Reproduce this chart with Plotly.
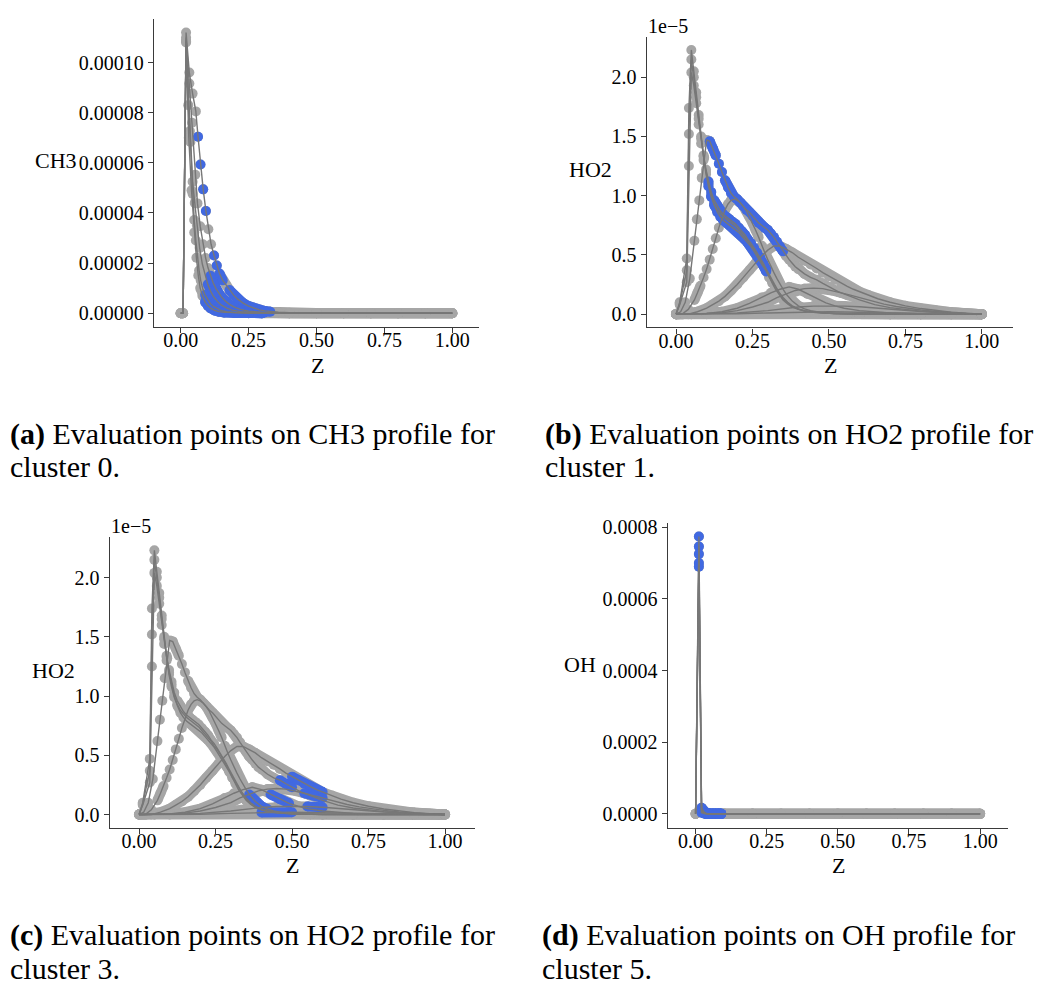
import plotly.graph_objects as go

# ------------------------------------------------------------------ data
# (a) CH3 profiles, values in units of 1e-5
ch3_z1 = [0, 0.009, 0.02, 0.032, 0.044, 0.056, 0.064, 0.073, 0.083, 0.093, 0.102, 0.112, 0.123, 0.133, 0.143,
          0.155, 0.167, 0.18, 0.195, 0.21, 0.23, 0.25, 0.27, 0.29, 0.31, 0.33, 0.36, 0.4, 0.45, 0.5, 0.6, 0.7,
          0.8, 0.9, 1.0]
ch3_v1 = [0, 0, 11.2, 9.6, 8.76, 8.05, 7.04, 5.93, 4.94, 4.08, 3.35, 2.75, 2.30, 1.90, 1.58,
          1.31, 1.12, 0.92, 0.72, 0.56, 0.40, 0.28, 0.19, 0.13, 0.09, 0.06, 0.035, 0.02, 0.01, 0.005, 0.002, 0.001,
          0, 0, 0]
ch3_z2 = [0, 0.009, 0.02, 0.032, 0.042, 0.054, 0.062, 0.072, 0.082, 0.092, 0.101, 0.11, 0.12, 0.13, 0.14, 0.15,
          0.165, 0.18, 0.2, 0.22, 0.25, 0.28, 0.31, 0.35, 0.4, 0.5, 0.6, 0.7, 0.8, 0.9, 1.0]
ch3_v2 = [0, 0, 11.0, 9.16, 7.6, 5.52, 4.38, 3.47, 2.75, 2.2, 1.8, 1.49, 1.2, 0.98, 0.8, 0.65,
          0.48, 0.35, 0.23, 0.15, 0.08, 0.045, 0.025, 0.012, 0.005, 0.001, 0, 0, 0, 0, 0]
ch3_z3 = [0, 0.009, 0.02, 0.034, 0.044, 0.052, 0.06, 0.07, 0.08, 0.09, 0.1, 0.11, 0.12, 0.135, 0.15, 0.17,
          0.19, 0.22, 0.25, 0.3, 0.35, 0.4, 0.5, 0.6, 0.7, 0.8, 0.9, 1.0]
ch3_v3 = [0, 0, 10.9, 7.27, 5.24, 4.4, 3.5, 2.6, 1.95, 1.5, 1.15, 0.88, 0.68, 0.47, 0.32, 0.2,
          0.12, 0.06, 0.03, 0.01, 0.004, 0, 0, 0, 0, 0, 0, 0]
ch3_z4 = [0, 0.009, 0.02, 0.028, 0.036, 0.044, 0.05, 0.056, 0.062, 0.068, 0.074, 0.082, 0.09, 0.1, 0.11, 0.12,
          0.135, 0.15, 0.17, 0.2, 0.25, 0.3, 0.4, 0.5, 0.6, 0.7, 0.8, 0.9, 1.0]
ch3_v4 = [0, 0, 10.8, 8.3, 6.83, 4.76, 3.72, 2.9, 2.21, 1.7, 1.3, 0.95, 0.73, 0.52, 0.37, 0.27,
          0.17, 0.1, 0.055, 0.025, 0.008, 0, 0, 0, 0, 0, 0, 0, 0]
ch3_z5 = [0, 0.009, 0.02, 0.03, 0.04, 0.05, 0.058, 0.065, 0.072, 0.08, 0.09, 0.1, 0.11, 0.125, 0.14, 0.16,
          0.2, 0.25, 0.3, 0.4, 0.5, 0.6, 0.7, 0.8, 0.9, 1.0]
ch3_v5 = [0, 0, 10.85, 7.0, 4.9, 3.22, 2.21, 1.5, 1.0, 0.7, 0.45, 0.3, 0.2, 0.11, 0.06, 0.03,
          0.01, 0, 0, 0, 0, 0, 0, 0, 0, 0]
# highlighted (cluster 0) Z windows per CH3 curve
ch3_blue = [[(0.06, 0.095), (0.118, 0.16), (0.175, 0.33)], [(0.105, 0.33)], [(0.095, 0.33)],
            [(0.088, 0.33)], [(0.085, 0.33)]]

# (b)/(c) HO2 profiles, values in units of 1e-5
ho2_z_tall = [0, 0.012, 0.035, 0.042, 0.05, 0.058, 0.066, 0.074, 0.082, 0.09, 0.098, 0.106, 0.115, 0.125,
              0.135, 0.145, 0.155, 0.165, 0.175, 0.185, 0.195, 0.205, 0.215, 0.225, 0.235, 0.245, 0.255,
              0.265, 0.275, 0.285, 0.295, 0.305, 0.315, 0.325, 0.335, 0.35, 0.365, 0.38, 0.4, 0.42, 0.45,
              0.48, 0.52, 0.56, 0.6, 0.7, 0.8, 0.9, 1.0]
ho2_v1 = [0, 0.10, 0.47, 1.74, 2.23, 2.05, 1.87, 1.68, 1.50, 1.33, 1.20, 1.10, 1.00, 0.93, 0.88, 0.85, 0.82,
          0.80, 0.78, 0.76, 0.74, 0.71, 0.68, 0.65, 0.62, 0.58, 0.55, 0.51, 0.47, 0.42, 0.37, 0.31, 0.26,
          0.21, 0.17, 0.12, 0.085, 0.06, 0.04, 0.025, 0.015, 0.008, 0.004, 0.002, 0.001, 0, 0, 0, 0]
ho2_v2 = [0, 0.09, 0.37, 1.52, 2.15, 2.0, 1.83, 1.65, 1.48, 1.34, 1.22, 1.12, 1.03, 0.96, 0.91, 0.87, 0.84,
          0.82, 0.80, 0.78, 0.76, 0.73, 0.70, 0.67, 0.63, 0.60, 0.56, 0.52, 0.48, 0.43, 0.38, 0.33, 0.28,
          0.23, 0.19, 0.14, 0.10, 0.07, 0.045, 0.03, 0.017, 0.009, 0.005, 0.002, 0.001, 0, 0, 0, 0]
ho2_v3 = [0, 0.08, 0.27, 1.25, 2.04, 1.93, 1.78, 1.60, 1.44, 1.30, 1.18, 1.08, 0.99, 0.92, 0.86, 0.82, 0.79,
          0.77, 0.75, 0.73, 0.71, 0.69, 0.66, 0.63, 0.60, 0.57, 0.53, 0.49, 0.45, 0.41, 0.36, 0.31, 0.27,
          0.22, 0.18, 0.13, 0.095, 0.065, 0.042, 0.027, 0.016, 0.009, 0.004, 0.002, 0.001, 0, 0, 0, 0]
ho2_z4 = [0, 0.015, 0.03, 0.045, 0.06, 0.068, 0.076, 0.084, 0.092, 0.1, 0.11, 0.12, 0.13, 0.14, 0.15, 0.16,
          0.17, 0.18, 0.19, 0.2, 0.21, 0.22, 0.23, 0.24, 0.25, 0.26, 0.27, 0.28, 0.29, 0.3, 0.31, 0.32, 0.33,
          0.34, 0.35, 0.36, 0.37, 0.38, 0.39, 0.4, 0.42, 0.44, 0.46, 0.48, 0.5, 0.53, 0.56, 0.6, 0.65, 0.7,
          0.8, 0.9, 1.0]
ho2_v4 = [0, 0.02, 0.1, 0.3, 0.62, 0.8, 0.96, 1.15, 1.32, 1.47, 1.46, 1.40, 1.34, 1.27, 1.20, 1.13,
          1.07, 1.02, 0.99, 0.97, 0.94, 0.91, 0.88, 0.86, 0.83, 0.80, 0.77, 0.75, 0.73, 0.71, 0.68, 0.65, 0.61,
          0.57, 0.53, 0.49, 0.46, 0.43, 0.40, 0.38, 0.34, 0.31, 0.29, 0.26, 0.23, 0.19, 0.16, 0.12, 0.08, 0.055,
          0.025, 0.008, 0]
ho2_z5 = [0, 0.02, 0.04, 0.06, 0.07, 0.08, 0.09, 0.1, 0.11, 0.12, 0.13, 0.14, 0.15, 0.16, 0.17, 0.18, 0.19,
          0.2, 0.21, 0.22, 0.23, 0.24, 0.25, 0.26, 0.27, 0.28, 0.29, 0.3, 0.31, 0.32, 0.33, 0.34, 0.35, 0.36,
          0.37, 0.38, 0.4, 0.42, 0.44, 0.46, 0.48, 0.5, 0.55, 0.6, 0.7, 0.8, 0.9, 1.0]
ho2_v5 = [0, 0.0, 0.04, 0.12, 0.18, 0.24, 0.31, 0.38, 0.46, 0.55, 0.64, 0.73, 0.81, 0.88, 0.93, 0.96, 0.97,
          0.96, 0.94, 0.91, 0.87, 0.82, 0.77, 0.71, 0.65, 0.58, 0.52, 0.46, 0.40, 0.35, 0.30, 0.25, 0.21, 0.17,
          0.14, 0.11, 0.07, 0.045, 0.03, 0.02, 0.012, 0.008, 0.003, 0.001, 0, 0, 0, 0]
ho2_z6 = [0, 0.04, 0.07, 0.1, 0.12, 0.14, 0.16, 0.18, 0.2, 0.22, 0.24, 0.26, 0.28, 0.3, 0.32, 0.34, 0.36,
          0.38, 0.4, 0.42, 0.44, 0.46, 0.48, 0.5, 0.52, 0.54, 0.56, 0.58, 0.6, 0.63, 0.66, 0.7, 0.75, 0.8,
          0.85, 0.9, 0.95, 1.0]
ho2_v6 = [0, 0.0, 0.02, 0.05, 0.08, 0.11, 0.15, 0.2, 0.25, 0.31, 0.37, 0.43, 0.49, 0.54, 0.575, 0.575, 0.55,
          0.52, 0.48, 0.45, 0.42, 0.385, 0.35, 0.32, 0.29, 0.26, 0.235, 0.21, 0.19, 0.16, 0.13, 0.1, 0.07,
          0.047, 0.03, 0.016, 0.007, 0]
ho2_z7 = [0, 0.05, 0.1, 0.15, 0.2, 0.24, 0.28, 0.31, 0.34, 0.37, 0.4, 0.43, 0.46, 0.49, 0.52, 0.55, 0.6,
          0.65, 0.7, 0.8, 0.9, 1.0]
ho2_v7 = [0, 0, 0.005, 0.02, 0.05, 0.09, 0.14, 0.18, 0.21, 0.23, 0.21, 0.17, 0.13, 0.095, 0.07, 0.05, 0.03,
          0.017, 0.01, 0.004, 0.001, 0]
ho2_z8 = [0, 0.05, 0.1, 0.15, 0.2, 0.25, 0.3, 0.33, 0.36, 0.39, 0.42, 0.45, 0.48, 0.51, 0.54, 0.57, 0.6,
          0.64, 0.68, 0.72, 0.76, 0.8, 0.85, 0.9, 0.95, 1.0]
ho2_v8 = [0, 0.0, 0.005, 0.012, 0.03, 0.06, 0.1, 0.14, 0.17, 0.2, 0.215, 0.22, 0.215, 0.2, 0.18, 0.16, 0.14,
          0.11, 0.085, 0.065, 0.048, 0.035, 0.022, 0.012, 0.005, 0]
ho2_z9 = [0, 0.1, 0.2, 0.3, 0.35, 0.4, 0.45, 0.5, 0.55, 0.6, 0.65, 0.7, 0.8, 0.9, 1.0]
ho2_v9 = [0, 0.003, 0.01, 0.03, 0.045, 0.06, 0.068, 0.07, 0.068, 0.062, 0.052, 0.04, 0.022, 0.008, 0]
ho2_z10 = [0, 0.1, 0.2, 0.3, 0.4, 0.5, 0.6, 0.7, 0.8, 0.9, 1.0]
ho2_v10 = [0, 0.0, 0.003, 0.01, 0.018, 0.02, 0.016, 0.01, 0.005, 0.002, 0]
# highlighted Z windows per HO2 curve: cluster 1 (panel b) and cluster 3 (panel c)
ho2_blue_c1 = [[(0.1, 0.3)], [(0.1, 0.3)], [(0.1, 0.3)], [(0.108, 0.355)], [], [], [], [], [], []]
ho2_blue_c3 = [[], [], [], [(0.45, 0.52)], [(0.36, 0.43)], [(0.5, 0.61)], [(0.41, 0.5)], [(0.54, 0.61)],
               [(0.54, 0.61)], [(0.38, 0.5)]]

# (d) OH profiles, values in units of 1e-4
oh_z = [0, 0.0116, 0.021, 0.03, 0.04, 0.05, 0.06, 0.07, 0.08, 0.09, 0.1, 0.2, 0.3, 0.4, 0.5, 0.6, 0.7, 0.8,
        0.9, 1.0]
oh_v1 = [0, 7.74, 0.17, 0.05, 0, 0, 0, 0, 0, 0, 0, 0, 0, 0, 0, 0, 0, 0, 0, 0]
oh_v2 = [0, 7.46, 0.10, 0.03, 0, 0, 0, 0, 0, 0, 0, 0, 0, 0, 0, 0, 0, 0, 0, 0]
oh_v3 = [0, 7.25, 0.08, 0.02, 0, 0, 0, 0, 0, 0, 0, 0, 0, 0, 0, 0, 0, 0, 0, 0]
oh_v4 = [0, 7.00, 0.05, 0.01, 0, 0, 0, 0, 0, 0, 0, 0, 0, 0, 0, 0, 0, 0, 0, 0]
oh_v5 = [0, 6.90, 0.03, 0.01, 0, 0, 0, 0, 0, 0, 0, 0, 0, 0, 0, 0, 0, 0, 0, 0]
oh_blue = [[(0.005, 0.095)]] * 5

x_ticks = [0, 0.25, 0.5, 0.75, 1.0]
ch3_ticks = [0, 2e-5, 4e-5, 6e-5, 8e-5, 1e-4]
ho2_ticks = [0, 0.5, 1.0, 1.5, 2.0]
oh_ticks = [0, 2e-4, 4e-4, 6e-4, 8e-4]

# ------------------------------------------------------------------ style
W, H = 1040, 985
GRAY, LINE, BLUE, AX = "#a6a6a6", "#777777", "#4169e1", "#3a3a3a"
FONT = "Liberation Serif, Times New Roman, serif"
MS = 10


def px_x(p):
    return p / W


def px_y(p):
    return 1 - p / H


ch3_curves = [(ch3_z1, [v * 1e-5 for v in ch3_v1]), (ch3_z2, [v * 1e-5 for v in ch3_v2]),
              (ch3_z3, [v * 1e-5 for v in ch3_v3]), (ch3_z4, [v * 1e-5 for v in ch3_v4]),
              (ch3_z5, [v * 1e-5 for v in ch3_v5])]
ho2_curves = [(ho2_z_tall, ho2_v1), (ho2_z_tall, ho2_v2), (ho2_z_tall, ho2_v3), (ho2_z4, ho2_v4),
              (ho2_z5, ho2_v5), (ho2_z6, ho2_v6), (ho2_z7, ho2_v7), (ho2_z8, ho2_v8), (ho2_z9, ho2_v9),
              (ho2_z10, ho2_v10)]
oh_curves = [(oh_z, [v * 1e-4 for v in vv]) for vv in (oh_v1, oh_v2, oh_v3, oh_v4, oh_v5)]

for z, v in ch3_curves + ho2_curves + oh_curves:
    assert len(z) == len(v), (len(z), len(v))

# panel boxes in pixels: left, right, top, bottom ; axis ranges
panels = [
    dict(curves=ch3_curves, blue=ch3_blue, box=(154, 479, 12, 322),
         xr=[-0.098, 1.098], yr=[-5.4e-6, 1.174e-4], yt=ch3_ticks, yf=".5f"),
    dict(curves=ho2_curves, blue=ho2_blue_c1, box=(646.7, 1012.7, 30, 322.7),
         xr=[-0.096, 1.101], yr=[-0.112, 2.341], yt=ho2_ticks, yf=".1f"),
    dict(curves=ho2_curves, blue=ho2_blue_c3, box=(109.7, 475, 533.3, 826.7),
         xr=[-0.096, 1.098], yr=[-0.112, 2.347], yt=ho2_ticks, yf=".1f"),
    dict(curves=oh_curves, blue=oh_blue, box=(667.7, 1008.3, 520, 826.7),
         xr=[-0.098, 1.099], yr=[-3.9e-5, 8.11e-4], yt=oh_ticks, yf=".4f"),
]


def tube_path(z, v, yr, hpx, thr=8.0):
    xs, ys = [], []
    for i in range(len(z)):
        if i > 0 and abs(v[i] - v[i - 1]) / (yr[1] - yr[0]) * hpx > thr:
            xs.append(None)
            ys.append(None)
        xs.append(z[i])
        ys.append(v[i])
    return xs, ys


fig = go.Figure()
layout = dict(width=W, height=H, margin=dict(l=0, r=0, t=0, b=0), paper_bgcolor="white",
              plot_bgcolor="white", showlegend=False, annotations=[])

for k, p in enumerate(panels):
    n = "" if k == 0 else str(k + 1)
    xa, ya = "x" + n, "y" + n
    l, r, t, b = p["box"]
    hpx = b - t
    tx, ty, mx, my, lx, ly = [], [], [], [], [], []
    bx, by, bmx, bmy = [], [], [], []
    for (z, v), wins in zip(p["curves"], p["blue"]):
        a, c = tube_path(z, v, p["yr"], hpx)
        tx += a + [None]
        ty += c + [None]
        mx += z
        my += v
        lx += list(z) + [None]
        ly += list(v) + [None]
        for (w0, w1) in wins:
            sz = [zz for zz in z if w0 <= zz <= w1]
            sv = [vv for zz, vv in zip(z, v) if w0 <= zz <= w1]
            a, c = tube_path(sz, sv, p["yr"], hpx)
            bx += a + [None]
            by += c + [None]
            bmx += sz
            bmy += sv
    fig.add_trace(go.Scatter(x=tx, y=ty, mode="lines", xaxis=xa, yaxis=ya,
                             line=dict(color=GRAY, width=MS), hoverinfo="skip"))
    fig.add_trace(go.Scatter(x=mx, y=my, mode="markers", xaxis=xa, yaxis=ya,
                             marker=dict(color=GRAY, size=MS, line=dict(width=0))))
    fig.add_trace(go.Scatter(x=bx, y=by, mode="lines", xaxis=xa, yaxis=ya,
                             line=dict(color=BLUE, width=MS), hoverinfo="skip"))
    fig.add_trace(go.Scatter(x=bmx, y=bmy, mode="markers", xaxis=xa, yaxis=ya,
                             marker=dict(color=BLUE, size=MS, line=dict(width=0))))
    fig.add_trace(go.Scatter(x=lx, y=ly, mode="lines", xaxis=xa, yaxis=ya,
                             line=dict(color=LINE, width=1.4), hoverinfo="skip"))

    common = dict(showline=True, linecolor=AX, linewidth=1.3, ticks="outside", ticklen=5, tickwidth=1.3,
                  tickcolor=AX, showgrid=False, zeroline=False,
                  tickfont=dict(family=FONT, size=20, color="black"))
    layout["xaxis" + n] = dict(domain=[px_x(l), px_x(r)], range=p["xr"], anchor=ya, tickvals=x_ticks,
                               tickformat=".2f", ticklabelstandoff=-10, **common)
    layout["yaxis" + n] = dict(domain=[px_y(b), px_y(t)], range=p["yr"], anchor=xa, tickvals=p["yt"],
                               tickformat=p["yf"], **common)


def ann(text, x, y, size, xanchor="center", yanchor="middle"):
    layout["annotations"].append(dict(text=text, x=px_x(x), y=px_y(y), xref="paper", yref="paper",
                                      showarrow=False, xanchor=xanchor, yanchor=yanchor,
                                      font=dict(family=FONT, size=size, color="black")))


# axis titles
for t, x, y in [("CH3", 56, 155), ("HO2", 590, 164), ("HO2", 53, 668), ("OH", 580, 662)]:
    ann(t, x, y, 22)
for x, y in [(317, 361), (830, 361), (292, 865), (838, 865)]:
    ann("Z", x, y, 22)
ann("1e\u22125", 668, 19, 20)
ann("1e\u22125", 131, 523, 20)

# captions
captions = [("<b>(a)</b> Evaluation points on CH3 profile for", "cluster 0.", 8, 430),
            ("<b>(b)</b> Evaluation points on HO2 profile for", "cluster 1.", 543, 430),
            ("<b>(c)</b> Evaluation points on HO2 profile for", "cluster 3.", 8, 935),
            ("<b>(d)</b> Evaluation points on OH profile for", "cluster 5.", 540, 935)]
for l1, l2, x, y in captions:
    ann(l1, x, y, 30, xanchor="left")
    ann(l2, x, y + 33, 30, xanchor="left")

fig.update_layout(**layout)
fig.write_html("out.html")
